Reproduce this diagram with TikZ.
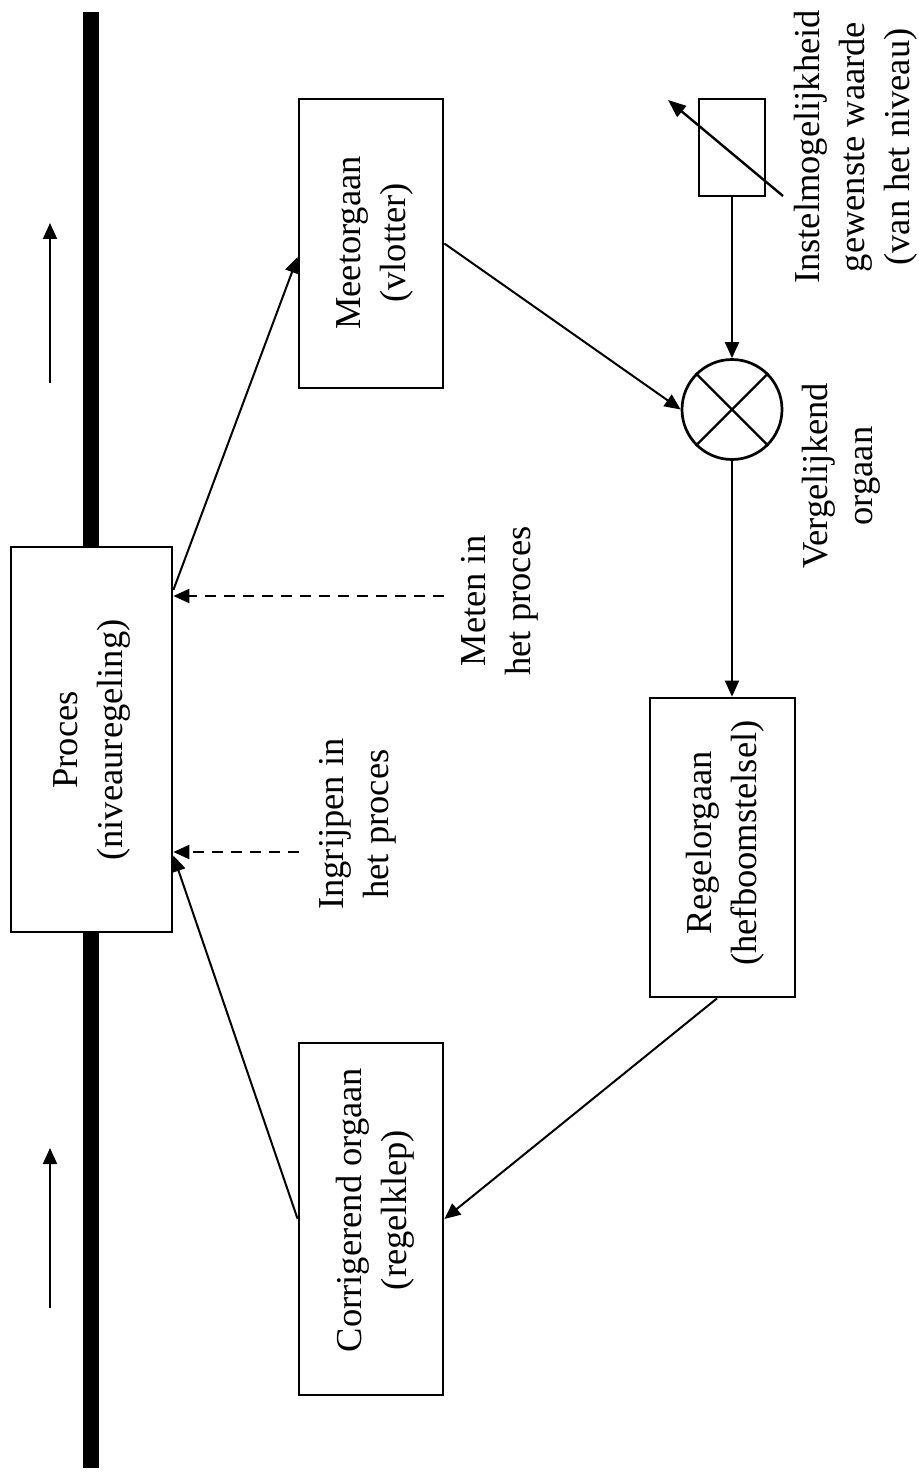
\documentclass[tikz,border=0pt]{standalone}
\usepackage{fontspec}
\setmainfont{Liberation Serif}
\usetikzlibrary{arrows.meta,calc}
\begin{document}
\begin{tikzpicture}[x=1pt,y=-1pt,
  box/.style={draw,line width=2.7pt,fill=white,inner sep=0pt},
  lbl/.style={rotate=90,align=center,inner sep=0pt,font=\fontsize{36.5}{45}\selectfont},
  conn/.style={line width=2pt,-{Triangle[length=16pt,width=14pt]}},
  dconn/.style={conn,dash pattern=on 11pt off 8pt},
  plain/.style={line width=2pt}]
\useasboundingbox (0,0) rectangle (918,1479);
% pipe
\fill[black] (83,12) rectangle (99,1468);
% flow arrows
\coordinate (fa1) at (50,383); \coordinate (fa2) at (50,223);
\coordinate (fb1) at (50,1308); \coordinate (fb2) at (50,1148);
\draw[conn] (fa1) -- (fa2);
\draw[conn] (fb1) -- (fb2);
% boxes
\node[box,minimum width=161pt,minimum height=385pt] (proc) at (91.5,739.5) {};
\node[lbl] (proctxt) at (92,740) {Proces\\(niveauregeling)};
\node[box,minimum width=144pt,minimum height=289pt] (meet) at (371,243.5) {};
\node[lbl] (meettxt) at (375,243) {Meetorgaan\\(vlotter)};
\node[box,minimum width=66pt,minimum height=97pt] (setp) at (732,147.5) {};
\node[draw,circle,line width=2.7pt,minimum size=100pt,inner sep=0pt] (comp) at (732,409.5) {};
\draw[line width=2.4pt] (comp.45) -- (comp.225) (comp.135) -- (comp.-45);
\node[box,minimum width=145pt,minimum height=299pt] (regel) at (722.5,847.5) {};
\node[lbl] (regeltxt) at (725,843) {Regelorgaan\\(hefboomstelsel)};
\node[box,minimum width=144pt,minimum height=352pt] (corr) at (371,1219) {};
\node[lbl] (corrtxt) at (375,1210) {Corrigerend orgaan\\(regelklep)};
% labels
\node[lbl] (meten) at (500,601) {Meten in\\het proces};
\node[lbl] (ingr) at (358,824) {Ingrijpen in\\het proces};
\node[lbl] (verg) at (841,476) {Vergelijkend\\orgaan};
\node[lbl] (instel) at (856,147) {Instelmogelijkheid\\gewenste waarde\\(van het niveau)};
% adjust arrow
\coordinate (adjA) at (783,196); \coordinate (adjB) at (668,100);
\draw[line width=2.4pt,-{Triangle[length=18pt,width=14pt]}] (adjA) -- (adjB);
% connectors
\draw[conn] ([yshift=149.5pt]proc.east) -- ([yshift=-13.5pt]meet.west);
\draw[conn] (meet.east) -- (comp.west);
\draw[conn] (setp.south) -- (comp.north);
\draw[conn] (comp.south) -- (regel.north -| comp.south);
\draw[conn] ([xshift=-5.5pt]regel.south) -- (corr.east);
\draw[conn] (corr.west) -- ([yshift=-116pt]proc.east);
\coordinate (metenA) at (444,596);
\coordinate (ingrA) at (299,852);
\draw[dconn] (metenA) -- ([yshift=143.5pt]proc.east);
\draw[dconn] (ingrA) -- ([yshift=-112.5pt]proc.east);
\end{tikzpicture}
\end{document}
